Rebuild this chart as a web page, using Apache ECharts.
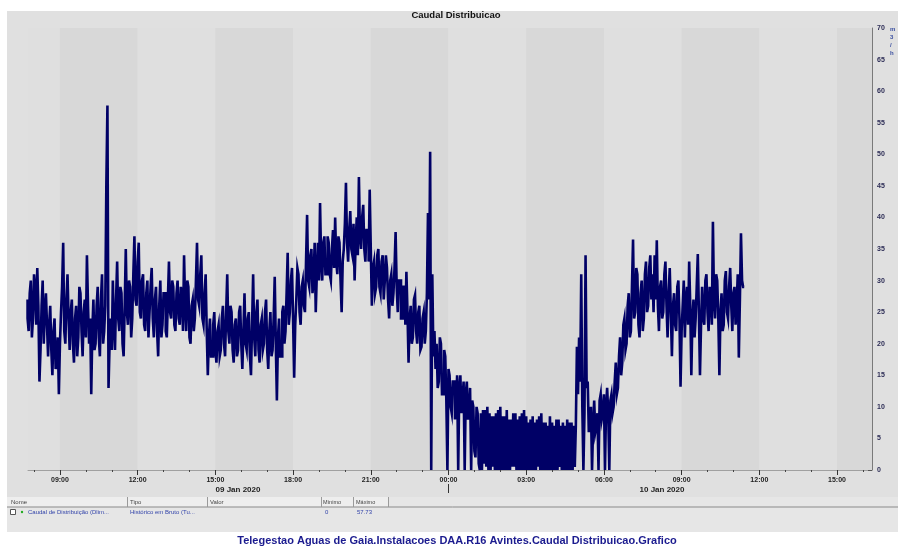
<!DOCTYPE html>
<html><head><meta charset="utf-8">
<script src="https://cdn.jsdelivr.net/npm/echarts@6/dist/echarts.min.js"></script>
<style>html,body{margin:0;padding:0;background:#fff}#c{width:898px;height:546px}</style>
</head><body><div id="c"></div>
<script>
// ---- data ----
const seriesName = 'Caudal de Distribuição (Dlim...';
const seriesType = 'Histórico em Bruto (Tu...';
const startTimeUTC = Date.UTC(2020, 0, 9, 7, 45);
const stepMinutes = 2.5;
const flowValues = [
  27,24, 22,28, 30,21, 24,31, 29,23, 32,26, 14,19, 26,30, 20,25, 28,23,
  18,23, 26,19, 15,22, 24,16, 17,21, 12,20, 25,29, 36,22, 20,27, 31,24,
  19,25, 27,20, 17,24, 26,18, 21,29, 28,22, 18,25, 27,21, 34,26, 20,24,
  12,22, 27,19, 20,26, 29,21, 18,27, 31,20, 22,26, 45.5,57.73, 13,20, 24,19,
  30,23, 19,27, 33,24, 22,29, 28,20, 18,26, 35,25, 23,30, 29,21, 24,31,
  37,27, 26,33, 36,25, 24,30, 31,23, 22,28, 30,21, 25,29, 32,24, 21,27,
  29,22, 18,26, 30,21, 23,28, 28,22, 21,27, 33,25, 24,30, 29,23, 22,28,
  30,24, 23,29, 28,22, 34,26, 22,30, 29,21, 20,26, 27,22, 24,30, 36,27,
  26,31, 34,24, 23,28, 31,22, 15,21, 24,18, 18,23, 25,19, 17,22, 23,18,
  19,24, 26,20, 18,25, 31,22, 20,26, 25,19, 17,23, 24,18, 19,25, 26,20,
  16,22, 28,20, 19,24, 25,18, 15,23, 31,21, 18,25, 27,19, 17,23, 24,19,
  20,25, 27,19, 16,22, 25,18, 19,24, 30.6,20, 11,21, 24,18, 18,25, 26,20,
  22,28, 34.4,23, 25,30, 32,24, 14.6,23, 27,32, 31,25, 23,29, 30,26, 25,33,
  40.4,30, 29,34, 35,28, 30,36, 25,31, 36,30, 42.3,33, 30,36, 37,31, 31,37,
  36,31, 30,35, 38,32, 40,33, 31,37, 36,30, 25,33, 35,39, 45.5,36, 33,38,
  41,35, 34,39, 30,36, 40,34, 46.4,37, 35,40, 42,35, 33,38, 38,33, 44.4,35,
  26,32, 33,28, 29,34, 35,29, 28,33, 34,27, 30,34, 32,27, 24,30, 31,26,
  28,32, 37.7,29, 25,30, 30,24, 24,29, 29,23, 31.4,25, 17,24, 26,20, 21,27,
  27.7,22, 20,25, 26,19, 19.5,24, 25,20, 22,28, 40.7,27, 50.4,0, 31,18, 22,16,
  20,13, 14,21, 20,12, 12,19, 18,11, 0,16, 15,10, 9,14, 14,8, 10,15,
  0,13, 15,9, 11,14, 0,12, 14,8, 9,13, 0,11, 10,3, 2,10, 9,1,
  0,9, 0,9.5, 1,9.5, 0.5,10, 0,9, 0,8.5, 0.5,8.5, 0,9, 0,9.5, 0,10,
  0,8.5, 0,8.5, 0,9.5, 0,8, 0,8, 0.5,9, 0.5,9, 0,8, 0,8.5, 0,9,
  0,9.5, 0,8.5, 0,7.5, 0,8, 0,8.5, 0,7.5, 0,8, 0.5,8.5, 0,9, 0,7.5,
  0,7.5, 0,7, 0,8.5, 0,7.5, 0,7, 0,8, 0,8, 0.5,7, 0,7.5, 0,7,
  0,8, 0,7.5, 0,7.5, 0,7, 0.5,7, 19.5,12, 21,14, 31,10, 0,9, 34,13,
  14,6, 8,10, 0,7, 11,6, 7,9, 0,11, 12,8, 9,12, 0,10, 13,9,
  0,11, 12,9, 10,14, 17,12, 13,18, 21,15, 17,23, 24,19, 20,26, 28,21,
  22,29, 36.5,24, 25,32, 31,23, 21,28, 30,22, 24,31, 33,25, 26,32, 34,27,
  31,25, 34,27, 36.4,26, 22,29, 30,24, 25,31, 33,26, 21,28, 32,25, 18,26,
  28,23, 22,29, 30,24, 13.2,22, 26,30, 21,27, 29,23, 33,26, 15,24, 27,21,
  24,29, 34.2,25, 15,23, 29,24, 23,30, 31,25, 22,29, 28,23, 39.3,27, 24,31,
  30,24, 15,25, 28,22, 23,30, 31.5,25, 24,29, 32,26, 22,28, 29,23, 26,31,
  17.8,27, 37.5,30, 29
];
const xMajorTickHours = [9, 12, 15, 18, 21, 24, 27, 30, 33, 36, 39];
const xTickLabels = ['09:00','12:00','15:00','18:00','21:00','00:00','03:00','06:00','09:00','12:00','15:00'];
const xMinorTickHours = [8,10,11,13,14,16,17,19,20,22,23,25,26,28,29,31,32,34,35,37,38,40];
const dateLabels = ['09 Jan 2020', '10 Jan 2020'];
const yMin = 0, yMax = 70, yStep = 5;
const unitLabel = 'm\n3\n/\nh';
const footerText = 'Telegestao Aguas de Gaia.Instalacoes DAA.R16 Avintes.Caudal Distribuicao.Grafico';
const titleText = 'Caudal Distribuicao';

// ---- build ----
const HOUR = 3600e3;
const day0 = Date.UTC(2020, 0, 9);
const xMin = day0 + (7 * 60 + 46) * 60e3;
const xMax = day0 + (40 * 60 + 21) * 60e3;
const seriesData = flowValues.map((v, i) => [startTimeUTC + i * stepMinutes * 60e3, v]);
const majorTimes = xMajorTickHours.map(h => day0 + h * HOUR);
const minorTimes = xMinorTickHours.map(h => day0 + h * HOUR);

const bandEdges = [xMin].concat(majorTimes, [xMax]);
const bands = [];
for (let i = 0; i < bandEdges.length - 1; i++) {
  bands.push([{ xAxis: bandEdges[i], itemStyle: { color: i % 2 === 0 ? '#dfdfdf' : '#d8d8d8' } }, { xAxis: bandEdges[i + 1] }]);
}
const vMin = Math.min(...flowValues), vMax = Math.max(...flowValues);

const chart = echarts.init(document.getElementById('c'), null, { renderer: 'canvas' });
const FONT = 'Liberation Sans';
chart.setOption({
  backgroundColor: '#ffffff',
  animation: false,
  grid: { left: 28, right: 26, top: 28, bottom: 76, show: false },
  xAxis: [{
    type: 'value', min: xMin, max: xMax, scale: true,
    axisLine: { show: true, lineStyle: { color: '#a0a0a0', width: 1 } },
    axisTick: { show: true, customValues: majorTimes, length: 5, lineStyle: { color: '#333' } },
    axisLabel: {
      customValues: majorTimes, fontSize: 7, fontWeight: 'bold', color: '#222', fontFamily: FONT, margin: 7,
      formatter: v => { const k = majorTimes.indexOf(+v); return k >= 0 ? xTickLabels[k] : ''; }
    },
    splitLine: { show: false }
  }, {
    type: 'value', min: xMin, max: xMax, scale: true, position: 'bottom',
    axisLine: { show: false },
    axisTick: { show: true, customValues: minorTimes, length: 2, lineStyle: { color: '#444' } },
    axisLabel: { show: false, customValues: minorTimes },
    splitLine: { show: false }
  }],
  yAxis: {
    type: 'value', position: 'right', min: yMin, max: yMax, interval: yStep,
    axisLine: { show: true, lineStyle: { color: '#7a7a7a' } },
    axisTick: { show: true, inside: true, length: 4, lineStyle: { color: '#555' } },
    minorTick: { show: true, splitNumber: 2, length: 2, lineStyle: { color: '#666' } },
    axisLabel: { fontSize: 7, fontWeight: 'bold', color: '#2c2c55', fontFamily: FONT, margin: 5 },
    splitLine: { show: false }
  },
  series: [{
    name: seriesName, type: 'line', step: 'start', data: seriesData,
    showSymbol: false, symbol: 'none', sampling: 'none',
    lineStyle: { color: '#000066', width: 2.6, join: 'miter', cap: 'butt' },
    markArea: { silent: true, data: bands }
  }],
  graphic: { elements: [
    { type: 'rect', z: -10, shape: { x: 7, y: 11, width: 891, height: 521 }, style: { fill: '#e0e0e0' } },
    { type: 'text', z: 10, x: 456, y: 15, style: { text: titleText, font: 'bold 9.5px ' + FONT, fill: '#111', textAlign: 'center', textVerticalAlign: 'middle' } },
    { type: 'text', z: 10, x: 238, y: 490, style: { text: dateLabels[0], font: 'bold 8px ' + FONT, fill: '#222', textAlign: 'center', textVerticalAlign: 'middle' } },
    { type: 'text', z: 10, x: 662, y: 490, style: { text: dateLabels[1], font: 'bold 8px ' + FONT, fill: '#222', textAlign: 'center', textVerticalAlign: 'middle' } },
    { type: 'line', z: 10, shape: { x1: 448.5, y1: 484, x2: 448.5, y2: 493 }, style: { stroke: '#333', lineWidth: 1 } },
    { type: 'text', z: 10, x: 890, y: 25, style: { text: unitLabel, font: 'bold 6px ' + FONT, fill: '#3a4fa0', textAlign: 'left', lineHeight: 8 } },
    { type: 'rect', z: -5, shape: { x: 7, y: 497, width: 891, height: 35 }, style: { fill: '#e6e6e6' } },
    { type: 'rect', z: -4, shape: { x: 7, y: 497, width: 381, height: 10 }, style: { fill: '#eeeeee' } },
    { type: 'line', z: 10, shape: { x1: 7, y1: 507, x2: 898, y2: 507 }, style: { stroke: '#8a8a8a', lineWidth: 1 } },
    { type: 'line', z: 10, shape: { x1: 127.5, y1: 497, x2: 127.5, y2: 507 }, style: { stroke: '#9a9a9a' } },
    { type: 'line', z: 10, shape: { x1: 207.5, y1: 497, x2: 207.5, y2: 507 }, style: { stroke: '#9a9a9a' } },
    { type: 'line', z: 10, shape: { x1: 321.5, y1: 497, x2: 321.5, y2: 507 }, style: { stroke: '#9a9a9a' } },
    { type: 'line', z: 10, shape: { x1: 353.5, y1: 497, x2: 353.5, y2: 507 }, style: { stroke: '#9a9a9a' } },
    { type: 'line', z: 10, shape: { x1: 388.5, y1: 497, x2: 388.5, y2: 507 }, style: { stroke: '#9a9a9a' } },
    { type: 'text', z: 10, x: 11, y: 502, style: { text: 'Nome', font: '6px ' + FONT, fill: '#444', textVerticalAlign: 'middle' } },
    { type: 'text', z: 10, x: 130, y: 502, style: { text: 'Tipo', font: '6px ' + FONT, fill: '#444', textVerticalAlign: 'middle' } },
    { type: 'text', z: 10, x: 210, y: 502, style: { text: 'Valor', font: '6px ' + FONT, fill: '#444', textVerticalAlign: 'middle' } },
    { type: 'text', z: 10, x: 323, y: 502, style: { text: 'Mínimo', font: '5.5px ' + FONT, fill: '#444', textVerticalAlign: 'middle' } },
    { type: 'text', z: 10, x: 356, y: 502, style: { text: 'Máximo', font: '5.5px ' + FONT, fill: '#444', textVerticalAlign: 'middle' } },
    { type: 'rect', z: 10, shape: { x: 10.5, y: 509.5, width: 5, height: 5 }, style: { fill: '#fff', stroke: '#555', lineWidth: 1 } },
    { type: 'circle', z: 10, shape: { cx: 22, cy: 512, r: 1.2 }, style: { fill: '#22aa22' } },
    { type: 'text', z: 10, x: 28, y: 512, style: { text: seriesName, font: '6px ' + FONT, fill: '#3344aa', textVerticalAlign: 'middle' } },
    { type: 'text', z: 10, x: 130, y: 512, style: { text: seriesType, font: '6px ' + FONT, fill: '#3344aa', textVerticalAlign: 'middle' } },
    { type: 'text', z: 10, x: 325, y: 512, style: { text: String(vMin), font: '6px ' + FONT, fill: '#3344aa', textVerticalAlign: 'middle' } },
    { type: 'text', z: 10, x: 357, y: 512, style: { text: String(vMax), font: '6px ' + FONT, fill: '#3344aa', textVerticalAlign: 'middle' } },
    { type: 'text', z: 10, x: 457, y: 541, style: { text: footerText, font: 'bold 11px ' + FONT, fill: '#1b1b8f', textAlign: 'center', textVerticalAlign: 'middle' } }
  ]}
});
</script></body></html>
